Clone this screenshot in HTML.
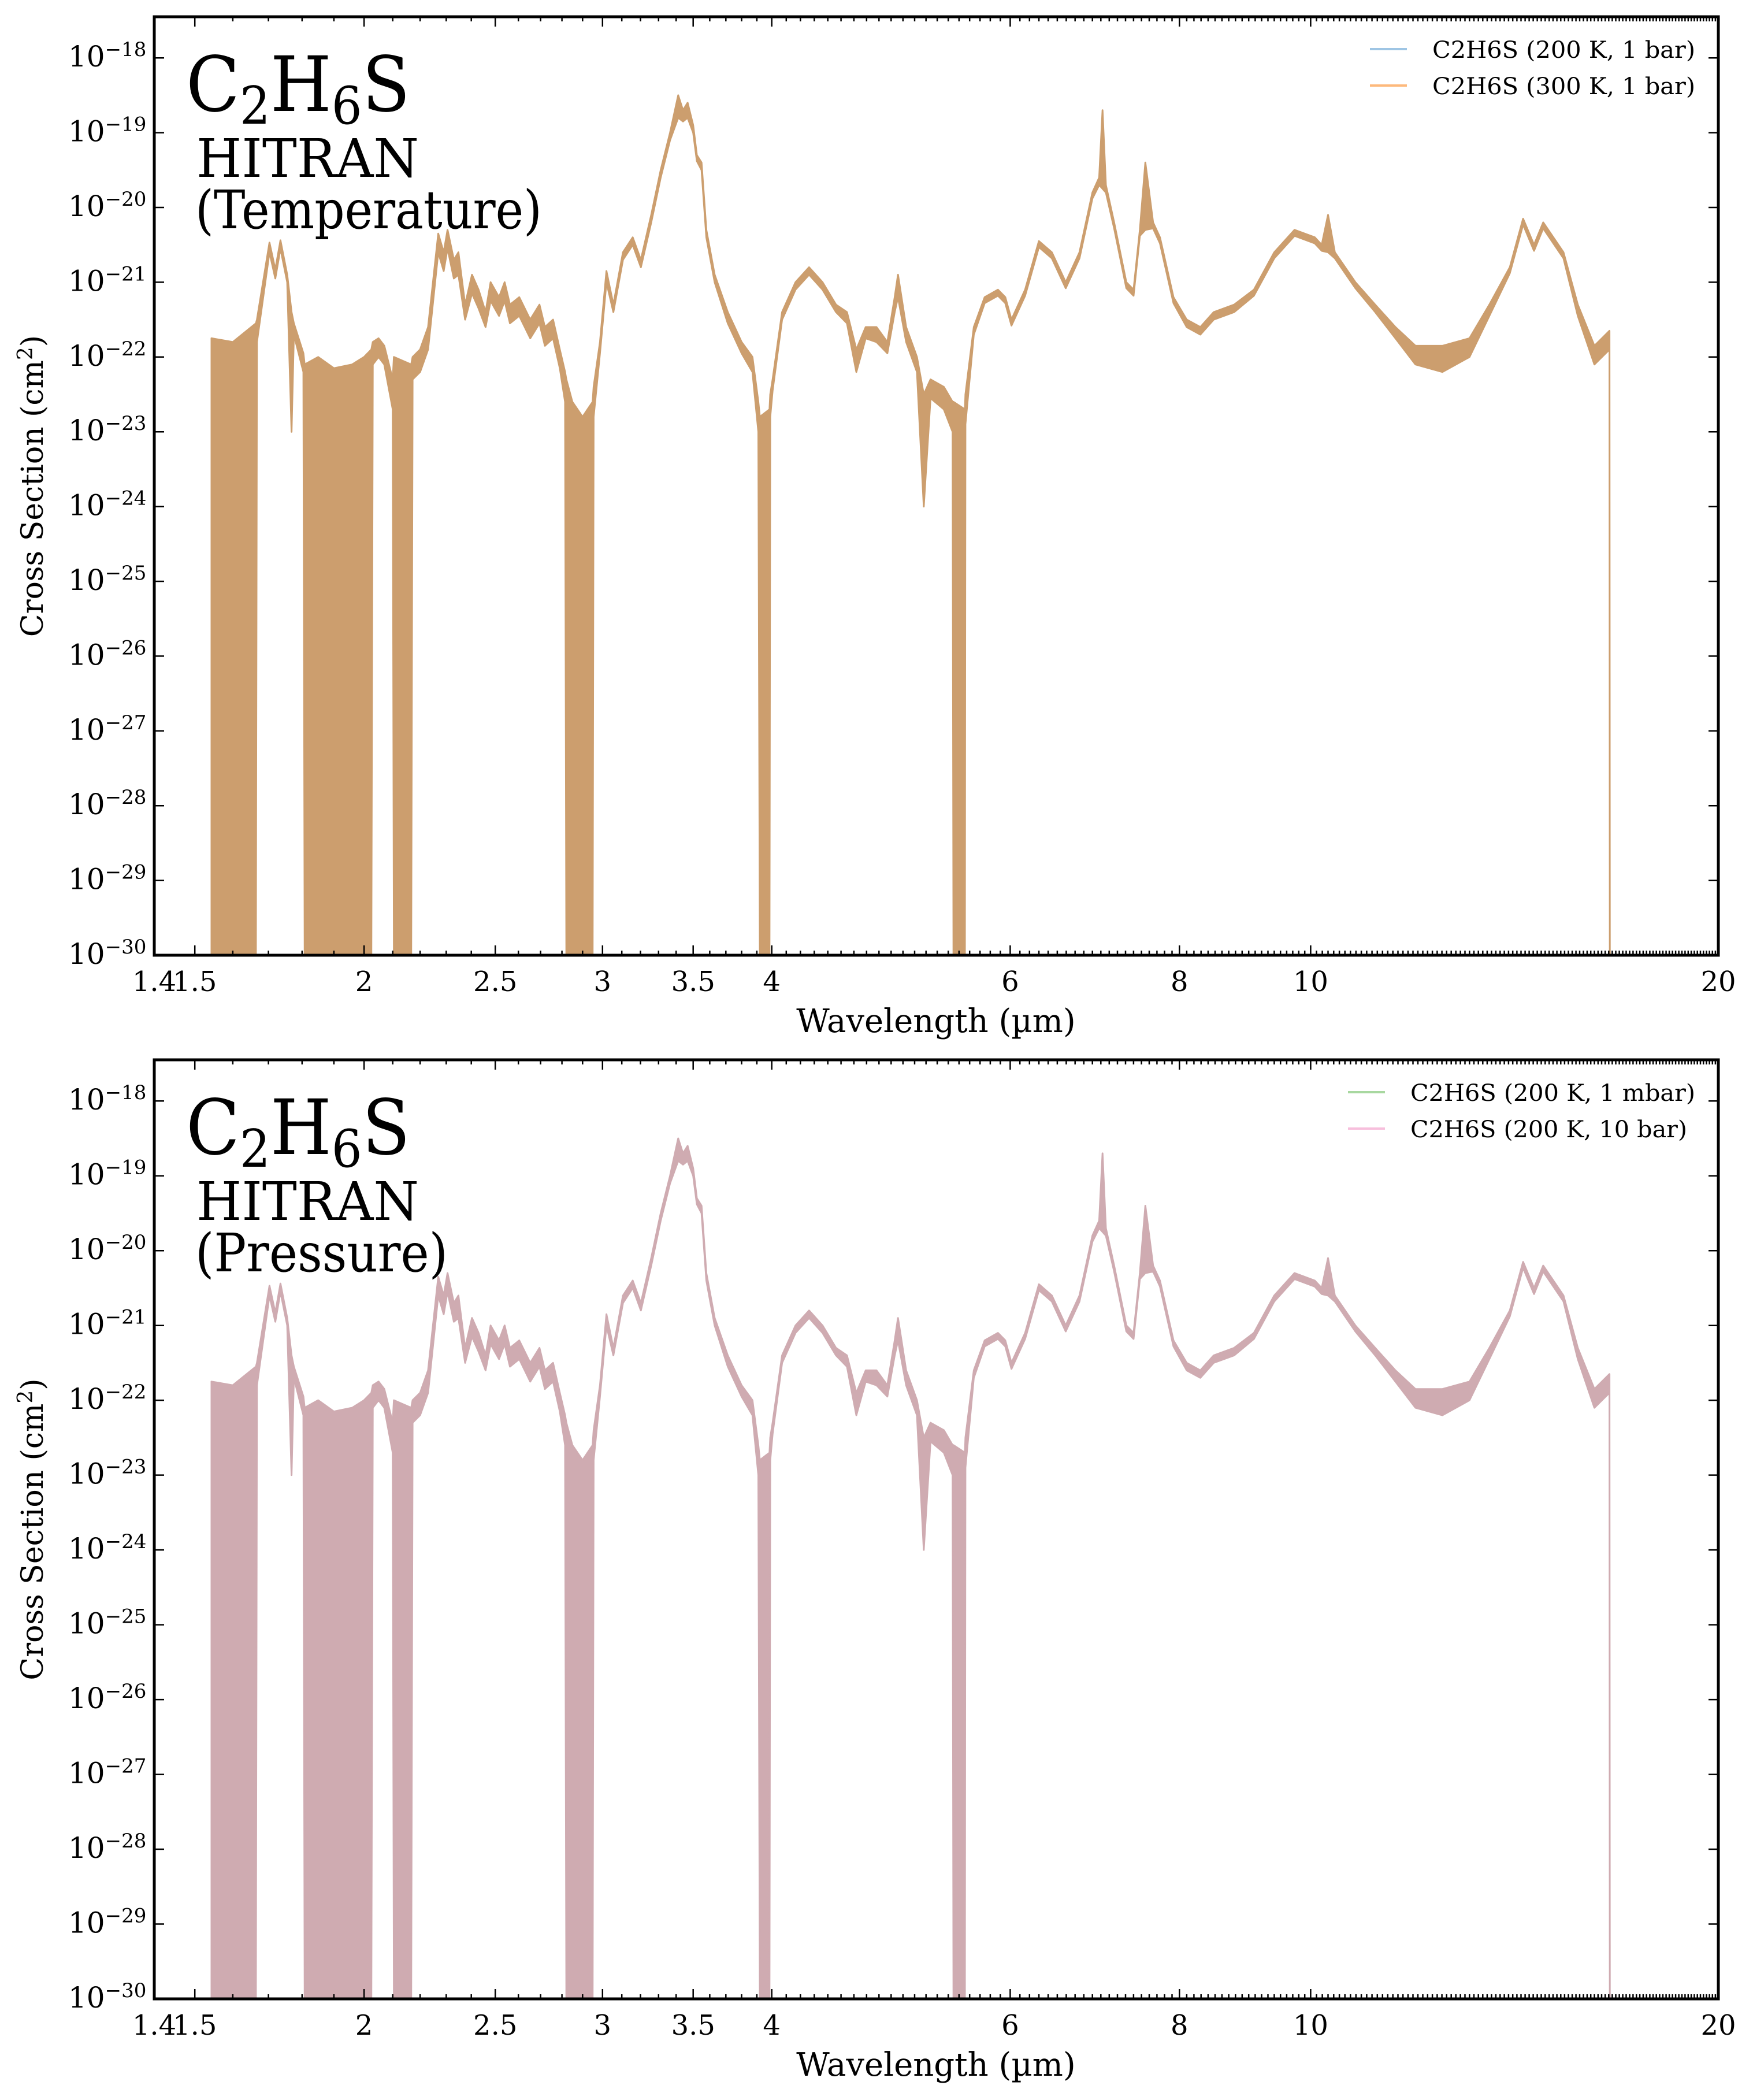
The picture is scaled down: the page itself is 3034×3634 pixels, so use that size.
<!DOCTYPE html>
<html><head><meta charset="utf-8"><style>
html,body{margin:0;padding:0;background:#fff;}
svg{display:block;}
text{font-family:"DejaVu Serif","Liberation Serif",serif;fill:#000;}
</style></head><body>
<svg id="chart" width="3034" height="3634" viewBox="0 0 3034 3634" xmlns="http://www.w3.org/2000/svg"></svg>
<script>
const wavelengths=[1.543,1.60,1.664,1.667,1.703,1.72,1.735,1.755,1.768,1.775,1.804,1.808,1.85,1.90,1.96,2.0,2.025,2.03,2.05,2.07,2.1,2.104,2.167,2.172,2.2,2.23,2.269,2.29,2.305,2.33,2.348,2.375,2.403,2.43,2.459,2.48,2.516,2.54,2.563,2.604,2.653,2.695,2.72,2.758,2.79,2.815,2.821,2.85,2.9,2.95,2.955,2.987,3.02,3.056,3.106,3.158,3.202,3.259,3.312,3.365,3.412,3.44,3.467,3.5,3.522,3.55,3.579,3.63,3.712,3.80,3.871,3.91,3.92,3.985,3.99,4.006,4.071,4.165,4.262,4.361,4.462,4.546,4.619,4.693,4.78,4.869,4.93,4.958,5.027,5.12,5.18,5.24,5.36,5.44,5.448,5.555,5.56,5.64,5.745,5.876,5.95,6.013,6.154,6.30,6.44,6.594,6.75,6.90,6.98,7.02,7.06,7.16,7.31,7.40,7.48,7.55,7.65,7.74,7.92,8.1,8.29,8.48,8.78,9.08,9.4,9.73,10.07,10.19,10.3,10.42,10.79,11.16,11.55,11.95,12.51,13.1,13.55,14.03,14.35,14.62,14.85,15.37,15.75,16.2,16.62,16.63];
const upperLog=[-21.75,-21.8,-21.55,-21.5,-20.47,-20.83,-20.44,-20.9,-21.4,-21.55,-21.95,-22.1,-22.0,-22.15,-22.1,-22.0,-21.9,-21.8,-21.75,-21.85,-22.3,-22.0,-22.1,-22.0,-21.9,-21.6,-20.35,-20.6,-20.3,-20.7,-20.6,-21.3,-20.9,-21.1,-21.4,-21.0,-21.2,-21.0,-21.3,-21.2,-21.5,-21.3,-21.6,-21.5,-21.9,-22.2,-22.3,-22.6,-22.8,-22.6,-22.4,-21.8,-20.85,-21.3,-20.6,-20.4,-20.7,-20.1,-19.5,-19.0,-18.5,-18.7,-18.6,-18.9,-19.3,-19.4,-20.3,-20.9,-21.4,-21.8,-22.0,-22.6,-22.8,-22.7,-22.5,-22.3,-21.4,-21.0,-20.8,-21.0,-21.3,-21.4,-21.9,-21.6,-21.6,-21.8,-21.2,-20.9,-21.6,-22.0,-22.5,-22.3,-22.4,-22.6,-22.6,-22.7,-22.5,-21.6,-21.2,-21.1,-21.2,-21.5,-21.1,-20.45,-20.6,-21.0,-20.6,-19.8,-19.6,-18.7,-19.7,-20.2,-21.0,-21.1,-20.3,-19.4,-20.2,-20.4,-21.2,-21.5,-21.6,-21.4,-21.3,-21.1,-20.6,-20.3,-20.4,-20.5,-20.1,-20.6,-21.0,-21.3,-21.6,-21.85,-21.85,-21.75,-21.3,-20.8,-20.15,-20.5,-20.2,-20.6,-21.3,-21.85,-21.65,-30];
const lowerLog=[-30,-30,-30,-21.8,-20.6,-20.95,-20.55,-21.0,-23.0,-21.7,-22.2,-30,-30,-30,-30,-30,-30,-22.1,-22.0,-22.1,-22.7,-30,-30,-22.3,-22.2,-21.9,-20.6,-20.85,-20.55,-20.95,-20.9,-21.5,-21.15,-21.35,-21.6,-21.25,-21.45,-21.25,-21.55,-21.45,-21.75,-21.55,-21.85,-21.75,-22.15,-22.6,-30,-30,-30,-30,-22.8,-21.95,-21.0,-21.4,-20.7,-20.5,-20.8,-20.2,-19.6,-19.1,-18.8,-18.85,-18.8,-19.0,-19.38,-19.5,-20.4,-21.0,-21.55,-21.95,-22.2,-23.0,-30,-30,-22.8,-22.45,-21.5,-21.1,-20.9,-21.1,-21.4,-21.55,-22.2,-21.75,-21.8,-21.95,-21.4,-21.2,-21.8,-22.2,-24.0,-22.55,-22.7,-23.0,-30,-30,-22.9,-21.7,-21.28,-21.18,-21.28,-21.58,-21.18,-20.53,-20.68,-21.08,-20.68,-19.88,-19.7,-19.75,-19.8,-20.28,-21.08,-21.18,-20.38,-20.3,-20.28,-20.48,-21.28,-21.6,-21.7,-21.5,-21.4,-21.18,-20.68,-20.38,-20.48,-20.58,-20.6,-20.68,-21.08,-21.4,-21.75,-22.1,-22.2,-22.0,-21.45,-20.88,-20.23,-20.58,-20.28,-20.68,-21.45,-22.1,-21.9,-30];
const xTickValues=[1.4,1.5,2,2.5,3,3.5,4,6,8,10,20];
const xTickLabels=["1.4","1.5","2","2.5","3","3.5","4","6","8","10","20"];
const yTickExponents=[-18,-19,-20,-21,-22,-23,-24,-25,-26,-27,-28,-29,-30];

const NS="http://www.w3.org/2000/svg";
const svg=document.getElementById('chart');
const X0=267,X1=2974,WMIN=1.4,WMAX=20;
function xs(w){return X0+(X1-X0)*Math.log(w/WMIN)/Math.log(WMAX/WMIN);}
function mk(tag,attrs,parent){const e=document.createElementNS(NS,tag);for(const k in attrs)e.setAttribute(k,attrs[k]);(parent||svg).appendChild(e);return e;}

const panels=[
 {top:29,bot:1653,fill:"#cc9e6e",key:"temperature",sub:"(Temperature)",subLen:600,
  leg:[["C2H6S (200 K, 1 bar)","#9ec5e4",2479,455],["C2H6S (300 K, 1 bar)","#fdb97c",2479,455]]},
 {top:1834,bot:3459,fill:"#cfabb1",key:"pressure",sub:"(Pressure)",subLen:437,
  leg:[["C2H6S (200 K, 1 mbar)","#a8d8a0",2441,493],["C2H6S (200 K, 10 bar)","#f7bfdc",2441,479]]}
];

panels.forEach((p,pi)=>{
  const off=p.top-29;
  const dec=(p.bot-p.top)/12.55;
  const ys=v=>p.bot-(v+30)*dec;
  const g=mk('g',{});
  
  
  let d='';
  for(let i=0;i<wavelengths.length;i++){d+=(i?'L':'M')+xs(wavelengths[i]).toFixed(1)+','+ys(upperLog[i]).toFixed(1);}
  for(let i=wavelengths.length-1;i>=0;i--){d+='L'+xs(wavelengths[i]).toFixed(1)+','+ys(lowerLog[i]).toFixed(1);}
  d+='Z';
  const s=mk('path',{d:d,fill:p.fill,stroke:p.fill,'stroke-width':3,'stroke-linejoin':'round'},g);
  
  
  const fr=mk('rect',{x:X0,y:p.top,width:X1-X0,height:p.bot-p.top,fill:'none',stroke:'#000','stroke-width':5},g);
  
  
  let td='';
  for(let k=15;k<200;k++){const w=k/10;const x=xs(w).toFixed(1);const major=xTickValues.some(v=>Math.abs(v-w)<1e-9);const L=major?17:8;
    td+='M'+x+','+p.bot+'v'+(-L)+'M'+x+','+p.top+'v'+L;}
  const tk=mk('path',{d:td,stroke:'#000','stroke-width':2.5,fill:'none'},g);
  
  
  xTickValues.forEach((v,i)=>{
    const t=mk('text',{x:xs(v),y:p.bot+62,'font-size':48,'text-anchor':'middle'},g);
    t.textContent=xTickLabels[i];
    
    
  });
  let yd='';
  yTickExponents.forEach(e=>{
    const y=ys(e);
    yd+='M'+X0+','+y.toFixed(1)+'h17M'+X1+','+y.toFixed(1)+'h-17';
    const t=mk('text',{x:118,y:y+15,'font-size':50},g);
    t.textContent='10';
    
    
    const sp=mk('tspan',{dy:-18,'font-size':34},t);
    sp.textContent='\u2212'+String(-e);
  });
  const ytk=mk('path',{d:yd,stroke:'#000','stroke-width':2.5},g);
  
  
  const xl=mk('text',{x:1620,y:p.bot+133,'font-size':56,'text-anchor':'middle'},g);
  xl.textContent='Wavelength (\u00b5m)';
  
  
  const cy=(p.top+p.bot)/2;
  const yl=mk('text',{x:0,y:0,'font-size':52,'text-anchor':'middle',transform:'translate(74,'+cy+') rotate(-90)'},g);
  yl.textContent='Cross Section (cm';
  const sup=mk('tspan',{dy:-18,'font-size':36},yl);sup.textContent='2';
  const cl=mk('tspan',{dy:18},yl);cl.textContent=')';
  
  
  const tt=mk('text',{x:322,y:192+off,'font-size':132,textLength:388,lengthAdjust:'spacingAndGlyphs'},g);
  
  
  const a=mk('tspan',{},tt);a.textContent='C';
  const b=mk('tspan',{dy:22,'font-size':90},tt);b.textContent='2';
  const c=mk('tspan',{dy:-22},tt);c.textContent='H';
  const d2=mk('tspan',{dy:22,'font-size':90},tt);d2.textContent='6';
  const e2=mk('tspan',{dy:-22},tt);e2.textContent='S';
  const h=mk('text',{x:340,y:306+off,'font-size':92,textLength:385,lengthAdjust:'spacingAndGlyphs'},g);
  h.textContent='HITRAN';
  
  
  const sb=mk('text',{x:338,y:395+off,'font-size':92,textLength:p.subLen,lengthAdjust:'spacingAndGlyphs'},g);
  sb.textContent=p.sub;
  
  
  p.leg.forEach((L,i)=>{
    const ly=85+off+i*63;
    const ln=mk('line',{x1:L[2]-108,x2:L[2]-44,y1:ly,y2:ly,stroke:L[1],'stroke-width':4},g);
    
    
    const lt=mk('text',{x:L[2],y:ly+15,'font-size':40,textLength:L[3],lengthAdjust:'spacingAndGlyphs'},g);
    lt.textContent=L[0];
    
    
  });
});
</script>
</body></html>
